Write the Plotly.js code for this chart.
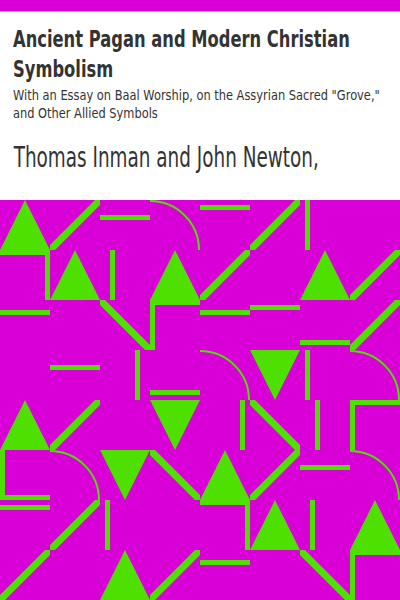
<!DOCTYPE html>
<html>
<head>
<meta charset="utf-8">
<script src="https://cdn.plot.ly/plotly-3.0.1.min.js"></script>
<style>
  html, body { margin: 0; padding: 0; background: #fff; }
  #cover { width: 400px; height: 600px; }
</style>
</head>
<body>
<div id="cover"></div>
<script>
// cover texts
var titleLines = ['Ancient Pagan and Modern Christian', 'Symbolism'];
var subtitleLines = ['With an Essay on Baal Worship, on the Assyrian Sacred "Grove,"', 'and Other Allied Symbols'];
var author = 'Thomas Inman and John Newton,';

// pattern grid, 8 x 8 cells of 50px
// up/dn = triangle, fwd = "/", bwd = "\", hl/vl = bar, arc = quarter circle,
// tl/tr/lb = two edge bars (top-left, top-right, left-bottom), - = empty
var motifs = [
  ['up',  'fwd', 'hl',  'arc', 'hl',  'fwd', 'vl',  '-'  ],
  ['tr',  'up',  'vl',  'up',  'fwd', '-',   'up',  'fwd'],
  ['hl',  '-',   'bwd', 'tl',  'hl',  'hl',  'hl',  'fwd'],
  ['-',   'hl',  'vl',  'hl',  'arc', 'dn',  'vl',  'arc'],
  ['up',  'fwd', '-',   'dn',  'vl',  'bwd', 'vl',  'tl' ],
  ['lb',  'arc', 'dn',  'bwd', 'up',  'fwd', 'hl',  'arc'],
  ['hl',  'fwd', 'vl',  '-',   'tr',  'up',  'vl',  'up' ],
  ['fwd', '-',   'up',  'fwd', 'hl',  '-',   'bwd', 'tl' ]
];
// where a bar sits inside its cell (px from top / left)
var offsets = [
  [0, 0, 15, 0, 5, 0, 5, 0],
  [0, 0, 10, 0, 0, 0, 0, 0],
  [10, 0, 0, 0, 10, 5, 40, 0],
  [0, 15, 35, 40, 0, 0, 5, 0],
  [0, 0, 0, 0, 40, 0, 15, 0],
  [0, 0, 0, 0, 0, 0, 15, 0],
  [5, 0, 5, 0, 0, 0, 10, 0],
  [0, 0, 0, 0, 10, 0, 0, 0]
];

var MAGENTA = '#d800d6';
var GREEN = '#4ee000';
var CELL = 50, TOP = 200, BAR = 5;

function fillPath(d){
  return {type:'path', xref:'x', yref:'y', path:d, fillcolor:GREEN, line:{width:0}, layer:'above'};
}
function rect(x0,y0,x1,y1,color){
  return {type:'rect', xref:'x', yref:'y', x0:x0, y0:y0, x1:x1, y1:y1, fillcolor:color, line:{width:0}, layer:'above'};
}

function cellShapes(kind, off, x, y){
  var s = CELL;
  switch(kind){
    case 'up':  return [fillPath('M'+x+','+(y+s)+' L'+(x+s/2)+','+y+' L'+(x+s)+','+(y+s)+' Z')];
    case 'dn':  return [fillPath('M'+x+','+y+' L'+(x+s)+','+y+' L'+(x+s/2)+','+(y+s)+' Z')];
    case 'fwd': return [fillPath('M'+x+','+(y+s)+' L'+(x+BAR)+','+(y+s)+' L'+(x+s)+','+(y+BAR)+' L'+(x+s)+','+y+
                                 ' L'+(x+s-BAR)+','+y+' L'+x+','+(y+s-BAR)+' Z')];
    case 'bwd': return [fillPath('M'+x+','+y+' L'+(x+BAR)+','+y+' L'+(x+s)+','+(y+s-BAR)+' L'+(x+s)+','+(y+s)+
                                 ' L'+(x+s-BAR)+','+(y+s)+' L'+x+','+(y+BAR)+' Z')];
    case 'hl':  return [rect(x, y+off, x+s, y+off+BAR, GREEN)];
    case 'vl':  return [rect(x+off, y, x+off+BAR, y+s, GREEN)];
    case 'tl':  return [rect(x, y, x+s, y+BAR, GREEN), rect(x, y, x+BAR, y+s, GREEN)];
    case 'tr':  return [rect(x, y, x+s, y+BAR, GREEN), rect(x+s-BAR, y, x+s, y+s, GREEN)];
    case 'lb':  return [rect(x, y, x+BAR, y+s, GREEN), rect(x, y+s-BAR, x+s, y+s, GREEN)];
    case 'arc':
      var r = 49, k = 0.5523*r, cx = x, cy = y+s;
      return [{type:'path', xref:'x', yref:'y', layer:'above',
        path:'M'+cx+','+(cy-r)+' C'+(cx+k)+','+(cy-r)+' '+(cx+r)+','+(cy-k)+' '+(cx+r)+','+cy,
        line:{color:GREEN, width:2}}];
  }
  return [];
}

var shapes = [];
shapes.push(rect(0, 0, 400, 11.5, MAGENTA));
shapes.push(rect(0, TOP, 400, 600, MAGENTA));
for(var r=0;r<motifs.length;r++){
  for(var c=0;c<motifs[r].length;c++){
    shapes = shapes.concat(cellShapes(motifs[r][c], offsets[r][c], c*CELL, TOP + r*CELL));
  }
}

// text blocks, widths are what the picture shows (the lettering is squeezed)
var blocks = [
  {text:titleLines.join('<br>'), y:24.5, size:23, weight:'bold', width:337},
  {text:subtitleLines.join('<br>'), y:86, size:14, weight:'normal', width:367},
  {text:author, y:139.5, size:28, weight:'normal', width:306}
];
var annotations = blocks.map(function(b){
  return {text:b.text, xref:'x', yref:'y', x:12, y:b.y, xanchor:'left', yanchor:'top',
    align:'left', showarrow:false, borderpad:0,
    font:{family:'DejaVu Sans', size:b.size, weight:b.weight, color:'#333333'}};
});

var layout = {
  width:400, height:600,
  margin:{l:0, r:0, t:0, b:0},
  paper_bgcolor:'#ffffff', plot_bgcolor:'#ffffff',
  xaxis:{range:[0,400], visible:false, fixedrange:true},
  yaxis:{range:[600,0], visible:false, fixedrange:true},
  shapes:shapes,
  annotations:annotations,
  showlegend:false
};

Plotly.newPlot('cover', [], layout, {staticPlot:true, displayModeBar:false}).then(function(){
  // squeeze the lettering sideways like on the original cover
  document.querySelectorAll('#cover .annotation').forEach(function(g){
    var i = +g.getAttribute('data-index');
    var t = g.querySelector('text.annotation-text');
    if(!t || !blocks[i]) return;
    var bb = t.getBBox();
    var sx = blocks[i].width / bb.width;
    t.setAttribute('transform', 'matrix('+sx+',0,0,1,'+((1-sx)*bb.x)+',0)');
  });
});
</script>
</body>
</html>
